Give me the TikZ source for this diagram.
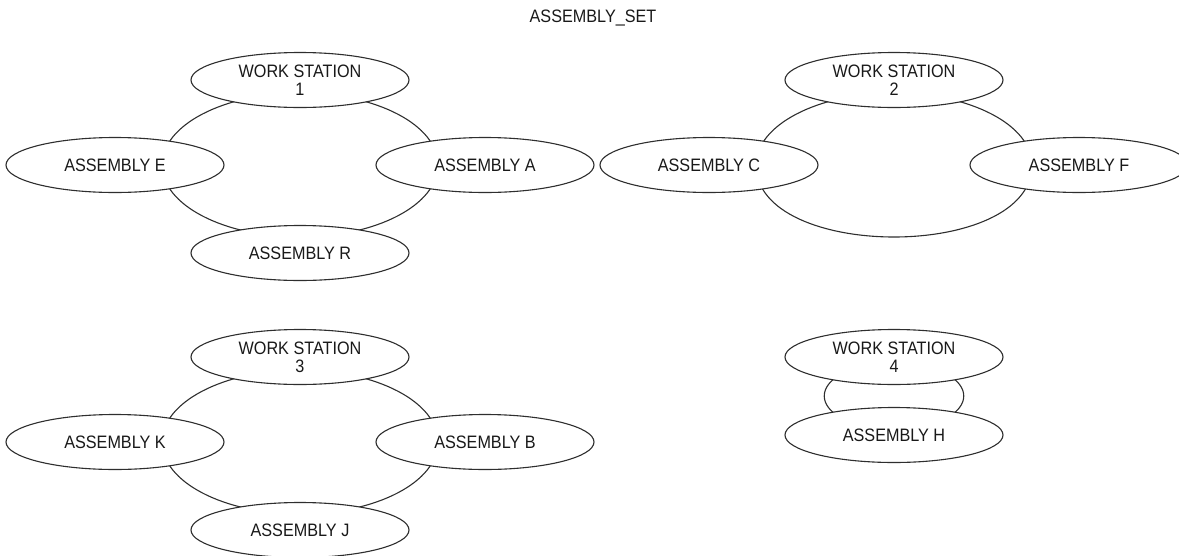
\documentclass[tikz,border=0pt]{standalone}
\usepackage{fontspec}
\setmainfont{Liberation Sans}[FakeStretch=0.9]
\usetikzlibrary{positioning,shapes.geometric,backgrounds}
\definecolor{lngrey}{HTML}{2E2E2E}
\tikzset{
  ent/.style ={ellipse, draw=lngrey, line width=1.1pt, fill=white, align=center,
               font=\fontsize{18}{18}\selectfont, text=black!90,
               minimum width=218pt, minimum height=55pt, inner sep=0pt},
  rng/.style ={draw=lngrey, line width=1.1pt},
  ttl/.style ={font=\fontsize{18}{18}\selectfont, text=black!90, inner sep=0pt}
}

\begin{document}
\begin{tikzpicture}[x=1pt,y=1pt]
  \useasboundingbox (0,0) rectangle (1179,-555);
  \node[ttl] (title) at (593,-18) {ASSEMBLY\_SET};
  % set 1
  \node[ent] (ws1) at (300,-80)  {WORK STATION\\1};
  \node[ent] (ae)  at (115,-165) {ASSEMBLY E};
  \node[ent] (aa)  at (485,-165) {ASSEMBLY A};
  \node[ent] (ar)  at (300,-253) {ASSEMBLY R};
  % set 2
  \node[ent] (ws2) at (894,-80)   {WORK STATION\\2};
  \node[ent] (ac)  at (709,-165)  {ASSEMBLY C};
  \node[ent] (af)  at (1079,-165) {ASSEMBLY F};
  % set 3
  \node[ent] (ws3) at (300,-357) {WORK STATION\\3};
  \node[ent] (ak)  at (115,-442) {ASSEMBLY K};
  \node[ent] (ab)  at (485,-442) {ASSEMBLY B};
  \node[ent] (aj)  at (300,-530) {ASSEMBLY J};
  % set 4
  \node[ent] (ws4) at (894,-357) {WORK STATION\\4};
  \node[ent] (ah)  at (894,-435) {ASSEMBLY H};
  \begin{scope}[on background layer]
    \draw[rng] ([yshift=-13pt]ws1.center) to[out=0,in=90,out distance=76pt,in distance=40pt] ([xshift=-47pt]aa.center);
    \draw[rng] ([xshift=-47pt]aa.center) to[out=-90,in=0,out distance=40pt,in distance=76pt] ([yshift=16pt]ar.center);
    \draw[rng] ([yshift=16pt]ar.center) to[out=180,in=-90,out distance=76pt,in distance=40pt] ([xshift=47pt]ae.center);
    \draw[rng] ([xshift=47pt]ae.center) to[out=90,in=180,out distance=40pt,in distance=76pt] ([yshift=-13pt]ws1.center);
    \draw[rng] ([yshift=-13pt]ws2.center) to[out=0,in=90,out distance=76pt,in distance=40pt] ([xshift=-47pt]af.center);
    \draw[rng] ([xshift=-47pt]af.center) to[out=-90,in=-90,distance=96pt] ([xshift=47pt]ac.center);
    \draw[rng] ([xshift=47pt]ac.center) to[out=90,in=180,out distance=40pt,in distance=76pt] ([yshift=-13pt]ws2.center);
    \draw[rng] ([yshift=-13pt]ws3.center) to[out=0,in=90,out distance=76pt,in distance=40pt] ([xshift=-47pt]ab.center);
    \draw[rng] ([xshift=-47pt]ab.center) to[out=-90,in=0,out distance=40pt,in distance=76pt] ([yshift=16pt]aj.center);
    \draw[rng] ([yshift=16pt]aj.center) to[out=180,in=-90,out distance=76pt,in distance=40pt] ([xshift=47pt]ak.center);
    \draw[rng] ([xshift=47pt]ak.center) to[out=90,in=180,out distance=40pt,in distance=76pt] ([yshift=-13pt]ws3.center);
    \draw[rng] ([yshift=-7pt]ws4.center) to[out=180,in=180,distance=93pt] ([yshift=7pt]ah.center);
    \draw[rng] ([yshift=-7pt]ws4.center) to[out=0,in=0,distance=93pt] ([yshift=7pt]ah.center);
  \end{scope}
\end{tikzpicture}
\end{document}
